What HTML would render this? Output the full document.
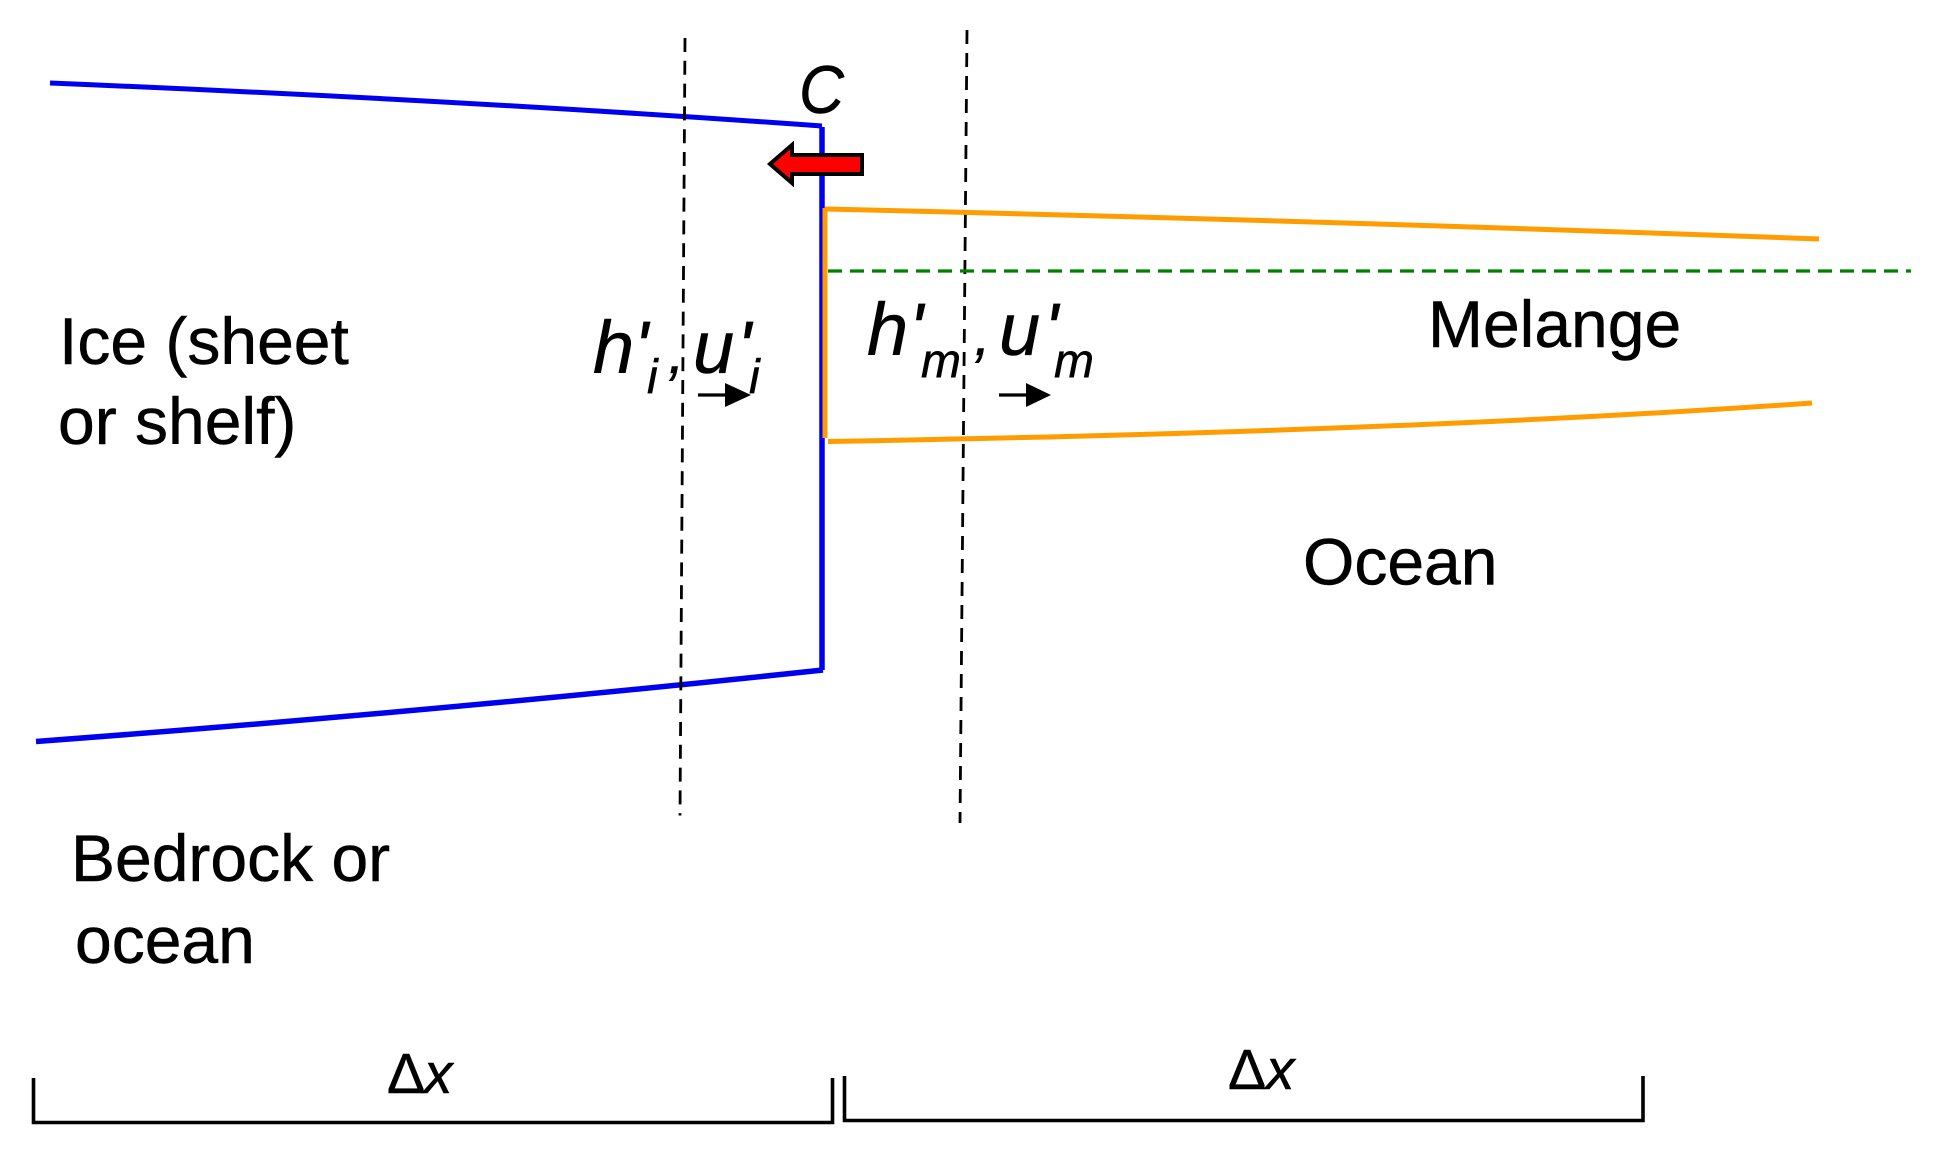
<!DOCTYPE html>
<html><head><meta charset="utf-8"><style>
html,body{margin:0;padding:0;background:#fff}
svg{display:block}
text{font-family:"Liberation Sans",sans-serif;fill:#000;stroke:#000;stroke-width:.5px}
.l{font-size:66px}
.m{font-size:74px;font-style:italic}
.s{font-size:48px;font-style:italic}
</style></head><body>
<svg width="1937" height="1152" viewBox="0 0 1937 1152" xmlns="http://www.w3.org/2000/svg">
<rect width="1937" height="1152" fill="#fff"/>
<path d="M50 83 Q460 100 822 126" fill="none" stroke="#0000f0" stroke-width="5"/>
<path d="M36 741.5 Q430 712 823 670" fill="none" stroke="#0000f0" stroke-width="5.5"/>
<path d="M822 127V670" fill="none" stroke="#0000f0" stroke-width="5.5"/>
<path d="M685 38L680 815.5" stroke="#000" stroke-width="2.8" stroke-dasharray="14 8.8" fill="none"/>
<path d="M967 30L960 823" stroke="#000" stroke-width="2.8" stroke-dasharray="14 9" fill="none"/>
<path d="M825 209Q1300 220 1819 239" stroke="#ff9c00" stroke-width="5" fill="none"/>
<path d="M825 208V438" stroke="#ff9c00" stroke-width="5" fill="none"/>
<path d="M828 441.5C1150 436 1500 425 1812 403" stroke="#ff9c00" stroke-width="5" fill="none"/>
<path d="M828 271H1911" stroke="#008000" stroke-width="3.2" stroke-dasharray="14 8" fill="none"/>
<polygon points="770,164 792,145 792,155 862,155 862,174 792,174 792,183" fill="#f00" stroke="#000" stroke-width="4"/>
<path d="M33.5 1078V1122.5H832.5V1078" fill="none" stroke="#000" stroke-width="3.6"/>
<path d="M844.5 1076V1120.5H1643V1076" fill="none" stroke="#000" stroke-width="3.6"/>
<text x="799" y="113" style="font-size:68px;font-style:italic" textLength="45" lengthAdjust="spacingAndGlyphs">C</text>
<text x="59" y="364" class="l">Ice (sheet</text>
<text x="58" y="444" class="l">or shelf)</text>
<text x="71" y="881" class="l">Bedrock or</text>
<text x="75" y="963" class="l">ocean</text>
<text x="1428" y="347" class="l">Melange</text>
<text x="1303" y="584.5" class="l">Ocean</text>
<text x="593" y="373" class="m">h</text><text x="634" y="373" class="m">'</text>
<text x="647" y="393" class="s">i</text>
<text x="668" y="373" class="m" style="font-size:60px">,</text>
<text x="693" y="373" class="m">u</text><text x="737" y="373" class="m">'</text>
<text x="749" y="393" class="s">i</text>
<text x="867" y="355" class="m">h</text><text x="909" y="355" class="m">'</text>
<text x="921" y="377" class="s">m</text>
<text x="974" y="355" class="m" style="font-size:60px">,</text>
<text x="999" y="355" class="m">u</text><text x="1044" y="355" class="m">'</text>
<text x="1054" y="377" class="s">m</text>
<path d="M698 395H728" stroke="#000" stroke-width="3.2"/><polygon points="725,383 751,395 725,407"/>
<path d="M999 395H1028" stroke="#000" stroke-width="3.2"/><polygon points="1026,383 1051,395 1026,407"/>
<text x="387" y="1093" style="font-size:57px">Δ</text><text x="424" y="1093" style="font-size:57px;font-style:italic">x</text>
<text x="1228" y="1089" style="font-size:57px">Δ</text><text x="1266" y="1089" style="font-size:57px;font-style:italic">x</text>
</svg>
</body></html>
